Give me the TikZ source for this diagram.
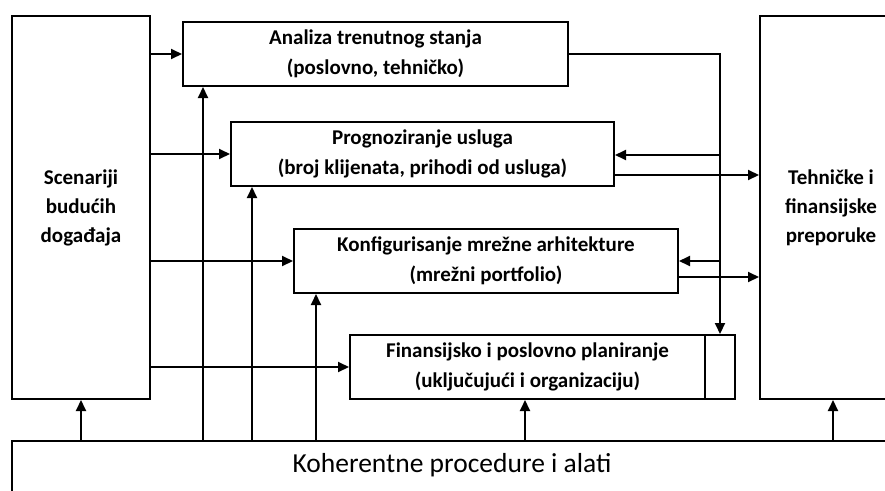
\documentclass[tikz,border=0pt]{standalone}
\usepackage{fontspec}
\setmainfont{Carlito}
\usetikzlibrary{arrows.meta}
\begin{document}
\begin{tikzpicture}[x=1pt,y=-1pt,
  box/.style={draw,line width=2pt,rectangle,anchor=north west,inner sep=0pt,
    align=center,font=\bfseries\fontsize{21}{30}\selectfont},
  colbox/.style={box,font=\bfseries\fontsize{21}{29}\selectfont},
  arr/.style={line width=2pt,-{Triangle[length=11pt,width=10pt]}}]
\useasboundingbox (0,0) rectangle (885,490);
\clip (0,0) rectangle (885,490);

% outer columns
\node[colbox,minimum width=138pt,minimum height=383pt] (scen) at (11,15)
  {Scenariji\\budućih\\događaja};
\node[colbox,minimum width=142pt,minimum height=383pt] (teh) at (759,15)
  {Tehničke i\\finansijske\\preporuke};

% planning steps
\node[box,minimum width=385pt,minimum height=64pt] (ana) at (182,21)
  {Analiza trenutnog stanja\\(poslovno, tehničko)};
\node[box,minimum width=383pt,minimum height=64pt] (prog) at (230,121)
  {Prognoziranje usluga\\(broj klijenata, prihodi od usluga)};
\node[box,minimum width=384pt,minimum height=64pt] (konf) at (293,228)
  {Konfigurisanje mrežne arhitekture\\(mrežni portfolio)};
\node[box,minimum width=355pt,minimum height=64pt] (fin) at (349,334)
  {Finansijsko i poslovno planiranje\\(uključujući i organizaciju)};
\node[box,minimum width=30pt,minimum height=64pt] (finx) at (704,334) {};

% common base
\node[box,minimum width=924pt,minimum height=100pt] (tools) at (11,440) {};
\node[font=\fontsize{27.5}{30}\selectfont] (toolstxt) at (452,465)
  {Koherentne procedure i alati};

% scenarios feed every step
\draw[arr] (scen.east |- ana.west) -- (ana.west);
\draw[arr] (scen.east |- prog.west) -- (prog.west);
\draw[arr] (scen.east |- konf.west) -- (konf.west);
\draw[arr] (scen.east |- fin.west) -- (fin.west);

% feedback from the analysis
\draw[arr] (ana.east) -| (finx.north);
\coordinate (j1) at (719,155);
\coordinate (j2) at (719,261);
\draw[arr] (j1) -- (prog.east |- j1);
\draw[arr] (j2) -- (konf.east |- j2);

% recommendations
\draw[arr] (prog.east |- 0,175) -- (teh.west |- 0,175);
\draw[arr] (konf.east |- 0,277) -- (teh.west |- 0,277);

% procedures and tools support everything
\draw[arr] (tools.north -| scen.south) -- (scen.south);
\draw[arr] (tools.north -| 203,0) -- (ana.south -| 203,0);
\draw[arr] (tools.north -| 252,0) -- (prog.south -| 252,0);
\draw[arr] (tools.north -| 316,0) -- (konf.south -| 316,0);
\draw[arr] (tools.north -| 525,0) -- (fin.south -| 525,0);
\draw[arr] (tools.north -| 833,0) -- (teh.south -| 833,0);
\end{tikzpicture}
\end{document}
